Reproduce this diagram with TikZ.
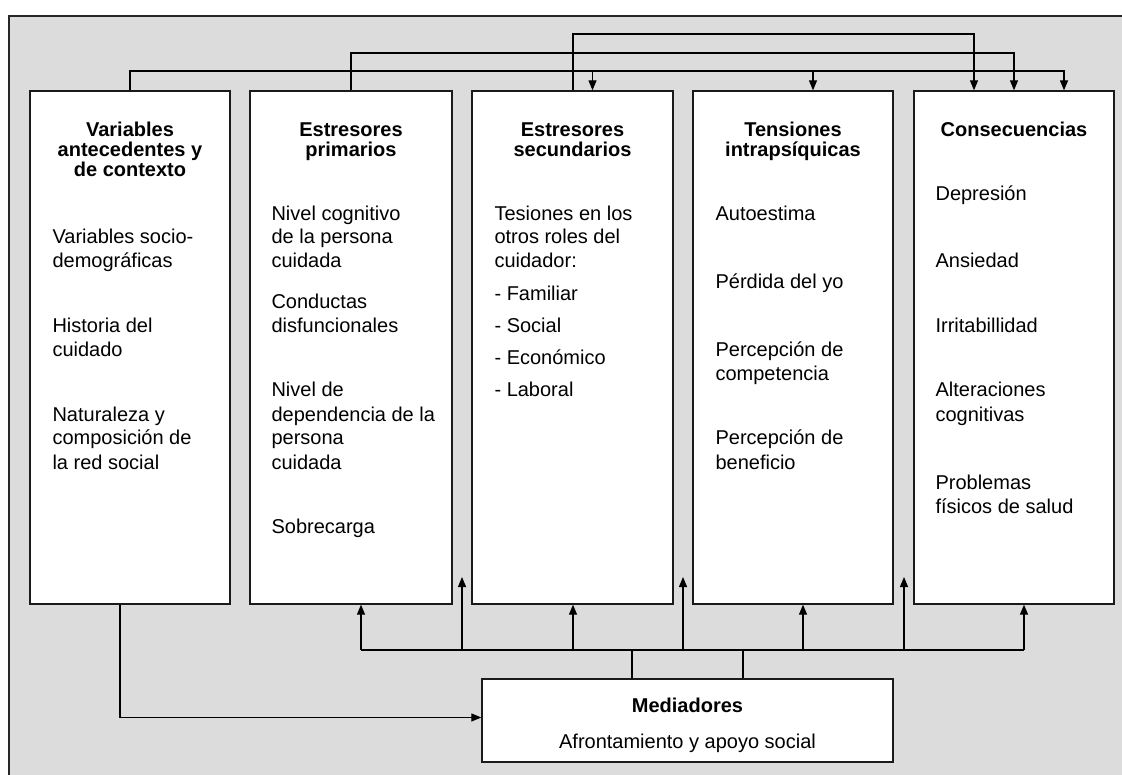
\documentclass[tikz,border=0pt]{standalone}
\usepackage{fontspec}
\setmainfont{Liberation Sans}
\usetikzlibrary{arrows.meta}
\definecolor{panel}{HTML}{DCDCDC}
\definecolor{edge}{HTML}{1A1A1A}
\tikzset{
  box/.style={draw=edge, line width=1.3pt, fill=white, inner sep=0pt},
  title/.style={anchor=base, inner sep=0pt, font=\fontsize{20}{22}\selectfont\bfseries},
  entry/.style={anchor=base west, inner sep=0pt, font=\fontsize{20}{22}\selectfont},
  wire/.style={draw=black, line width=1.2pt},
  arr/.style={wire, -{Triangle[length=10pt,width=8pt]}}
}
\begin{document}
\begin{tikzpicture}[x=1pt,y=-1pt]
\useasboundingbox (0,0) rectangle (1122,775);
% grey panel with dark top and left borders
\fill[panel] (9,16) rectangle (1122,775);
\draw[line width=2.6pt, draw=black!85] (8,16) -- (1122,16);
\draw[line width=1.8pt, draw=black!85] (9,16) -- (9,775);

% five columns
\node[box, minimum width=200pt, minimum height=513pt] (b1) at (130,347.5) {};
\node[box, minimum width=202pt, minimum height=513pt] (b2) at (351,347.5) {};
\node[box, minimum width=201pt, minimum height=513pt] (b3) at (572.5,347.5) {};
\node[box, minimum width=200pt, minimum height=513pt] (b4) at (793,347.5) {};
\node[box, minimum width=200pt, minimum height=513pt] (b5) at (1014,347.5) {};
% mediators box
\node[box, minimum width=411pt, minimum height=83pt] (med) at (687.5,720.5) {};

% column headings
\foreach \y/\t [count=\i] in {137/Variables, 157/antecedentes y, 177/de contexto}
  \node[title, name=h1-\i] at (b1.center |- 0,\y) {\t};
\foreach \y/\t [count=\i] in {137/Estresores, 157/primarios}
  \node[title, name=h2-\i] at (b2.center |- 0,\y) {\t};
\foreach \y/\t [count=\i] in {137/Estresores, 157/secundarios}
  \node[title, name=h3-\i] at (b3.center |- 0,\y) {\t};
\foreach \y/\t [count=\i] in {137/Tensiones, 157/intrapsíquicas}
  \node[title, name=h4-\i] at (b4.center |- 0,\y) {\t};
\node[title] (h5-1) at (b5.center |- 0,137) {Consecuencias};

% column entries
\foreach \y/\t [count=\i] in {244/Variables socio-, 268/demográficas, 333/Historia del, 357/cuidado,
    421/Naturaleza y, 445/composición de, 469/la red social}
  \node[entry, name=e1-\i] at ([xshift=23pt]b1.west |- 0,\y) {\t};
\foreach \y/\t [count=\i] in {221/Nivel cognitivo, 244/de la persona, 268/cuidada, 309/Conductas,
    333/disfuncionales, 397/Nivel de, 421/dependencia de la, 445/persona, 469/cuidada, 533/Sobrecarga}
  \node[entry, name=e2-\i] at ([xshift=22pt]b2.west |- 0,\y) {\t};
\foreach \y/\t [count=\i] in {221/Tesiones en los, 244/otros roles del, 268/cuidador:, 301/- Familiar,
    333/- Social, 365/- Económico, 397/- Laboral}
  \node[entry, name=e3-\i] at ([xshift=23pt]b3.west |- 0,\y) {\t};
\foreach \y/\t [count=\i] in {221/Autoestima, 289/Pérdida del yo, 357/Percepción de, 381/competencia,
    445/Percepción de, 469/beneficio}
  \node[entry, name=e4-\i] at ([xshift=23pt]b4.west |- 0,\y) {\t};
\foreach \y/\t [count=\i] in {201/Depresión, 268/Ansiedad, 333/Irritabillidad, 397/Alteraciones,
    421/cognitivas, 489/Problemas, 513/físicos de salud}
  \node[entry, name=e5-\i] at ([xshift=22pt]b5.west |- 0,\y) {\t};

% mediators text
\node[title] (m1) at (med.center |- 0,712) {Mediadores};
\node[entry, anchor=base] (m2) at (med.center |- 0,748) {Afrontamiento y apoyo social};

% feedback lines above the columns
\coordinate (L1) at (0,34);
\coordinate (L2) at (0,53);
\coordinate (L3) at (0,71);
\draw[arr] ([xshift=0.5pt]b3.north) -- ([xshift=0.5pt]b3.north |- L1) -| ([xshift=-40pt]b5.north);
\draw[arr] (b2.north) -- (b2.north |- L2) -| (b5.north);
\draw[arr] (b1.north) -- (b1.north |- L3) -| ([xshift=50pt]b5.north);
\draw[arr] ([xshift=20pt]b3.north |- L3) -- ([xshift=20pt]b3.north);
\draw[arr] ([xshift=20pt]b4.north |- L3) -- ([xshift=20pt]b4.north);

% mediators distribution bus below the columns
\coordinate (bus) at (0,650);
\coordinate (g1) at (462,577);
\coordinate (g2) at (683,577);
\coordinate (g3) at (904,577);
\draw[wire] ([xshift=10pt]b2.south |- bus) -- ([xshift=10pt]b5.south |- bus);
\draw[wire] ([xshift=-55.5pt]med.north) -- ([xshift=-55.5pt]med.north |- bus);
\draw[wire] ([xshift=55.5pt]med.north) -- ([xshift=55.5pt]med.north |- bus);
\draw[arr] ([xshift=10pt]b2.south |- bus) -- ([xshift=10pt]b2.south);
\draw[arr] ([xshift=0.5pt]b3.south |- bus) -- ([xshift=0.5pt]b3.south);
\draw[arr] ([xshift=10pt]b4.south |- bus) -- ([xshift=10pt]b4.south);
\draw[arr] ([xshift=10pt]b5.south |- bus) -- ([xshift=10pt]b5.south);
\draw[arr] (g1 |- bus) -- (g1);
\draw[arr] (g2 |- bus) -- (g2);
\draw[arr] (g3 |- bus) -- (g3);

% antecedents feed the mediators
\draw[arr] ([xshift=-10pt]b1.south) |- ([yshift=3pt]med.west);
\end{tikzpicture}
\end{document}
